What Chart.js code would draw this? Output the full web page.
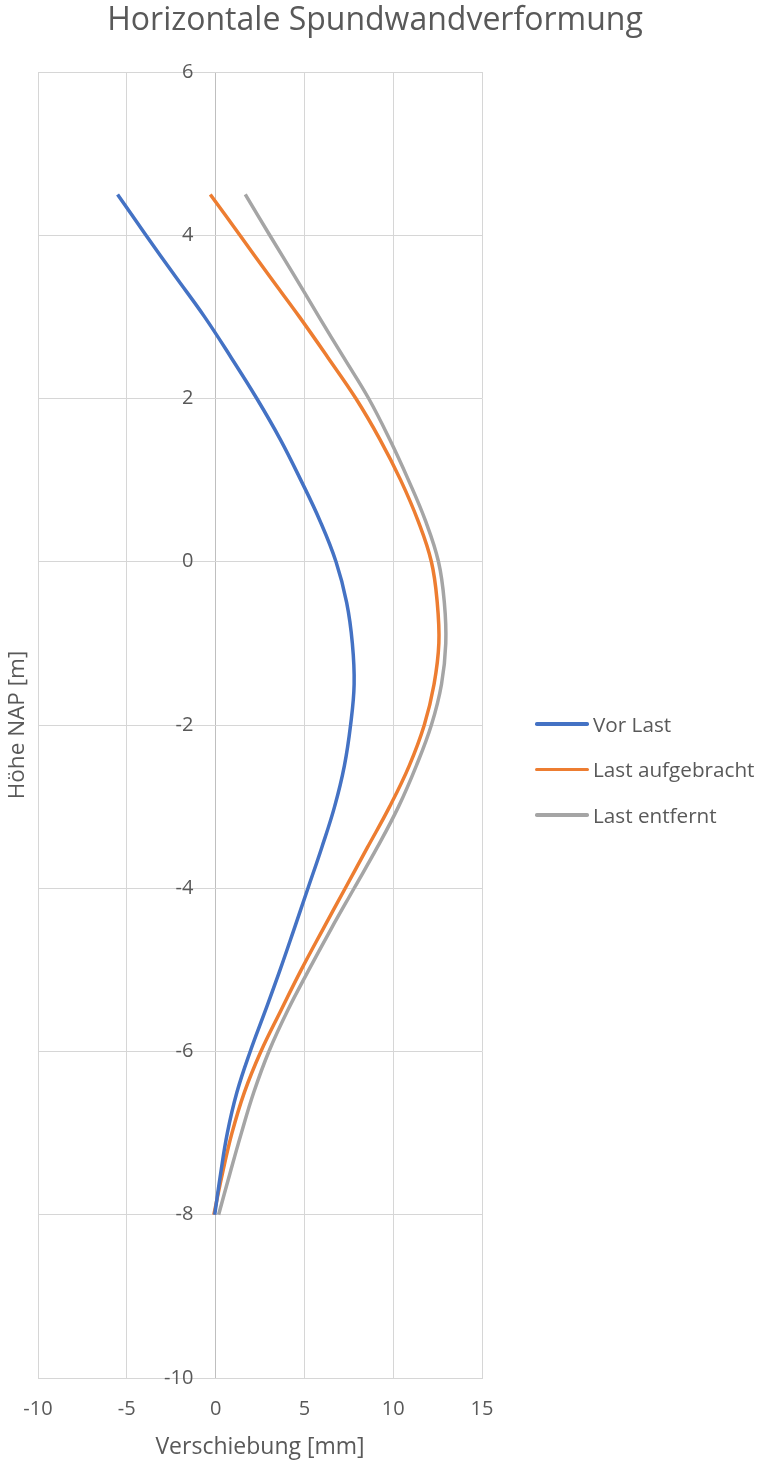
<!DOCTYPE html>
<html lang="de">
<head>
<meta charset="utf-8">
<title>Horizontale Spundwandverformung</title>
<script src="https://cdn.jsdelivr.net/npm/chart.js@4.4.1/dist/chart.umd.min.js"></script>
<style>
  html, body { margin: 0; padding: 0; background: #ffffff; }
  #wrap { position: relative; width: 758px; height: 1465px; }
  #legend { position: absolute; left: 535px; top: 701px; font-family: "Open Sans", sans-serif; font-size: 20.7px; color: #595959; }
  .item { display: flex; align-items: center; height: 45.5px; white-space: nowrap; }
  .swatch { width: 54px; height: 3.5px; border-radius: 1.75px; margin-right: 4px; }
</style>
</head>
<body>
<div id="wrap">
  <canvas id="chart"></canvas>
  <div id="legend"></div>
</div>
<script>
// Höhe NAP [m] der Messpunkte entlang der Spundwand
const heights = [4.5, 4, 3.5, 3, 2.5, 2, 1.5, 1, 0.5, 0, -0.5, -1, -1.5, -2, -2.5, -3, -3.5, -4, -4.5, -5, -5.5, -6, -6.5, -7, -7.5, -8];

// Horizontale Verschiebung [mm] je Lastzustand
const vorLast = [-5.52, -3.92, -2.28, -0.62, 0.88, 2.32, 3.64, 4.8, 5.88, 6.78, 7.38, 7.7, 7.8, 7.6, 7.25, 6.7, 5.98, 5.2, 4.42, 3.63, 2.8, 1.95, 1.2, 0.66, 0.28, -0.05];
const lastAufgebracht = [-0.3, 1.37, 3.03, 4.72, 6.33, 7.9, 9.25, 10.42, 11.4, 12.15, 12.48, 12.57, 12.3, 11.75, 10.9, 9.8, 8.55, 7.3, 6.05, 4.82, 3.67, 2.55, 1.62, 0.92, 0.38, -0.1];
const lastEntfernt = [1.67, 3.05, 4.45, 5.82, 7.22, 8.62, 9.8, 10.86, 11.82, 12.55, 12.88, 12.96, 12.72, 12.15, 11.3, 10.3, 9.1, 7.8, 6.5, 5.25, 4.05, 3.0, 2.15, 1.45, 0.8, 0.17];

const seriesNames = ["Vor Last", "Last aufgebracht", "Last entfernt"];
const seriesColors = ["#4472C4", "#ED7D31", "#A5A5A5"];

// Achsen
const xMin = -10, xMax = 15, xStep = 5;
const yMin = -10, yMax = 6, yStep = 2;
const yLabelAxisAt = -1.25;   // Lage der Höhenbeschriftung links neben der Nulllinie

const textColor = "#595959";
const gridColor = "#d6d6d6";
const zeroLineColor = "#bfbfbf";
const fontFamily = '"Open Sans", sans-serif';

function toPoints(values) {
  return values.map((v, i) => ({ x: v, y: heights[i] }));
}

const seriesValues = [vorLast, lastAufgebracht, lastEntfernt];
const datasets = seriesValues.map((vals, i) => ({
  label: seriesNames[i],
  data: toPoints(vals),
  borderColor: seriesColors[i],
  backgroundColor: seriesColors[i],
  borderWidth: 3.5,
  pointRadius: 0,
  showLine: true,
  tension: 0.4,
  fill: false,
  yAxisID: "y"
}));

const chart = new Chart(document.getElementById("chart"), {
  type: "scatter",
  data: { datasets },
  options: {
    responsive: true,
    maintainAspectRatio: false,
    animation: false,
    devicePixelRatio: 1,
    layout: { padding: { left: 0, right: 8, top: 0, bottom: 0 } },
    plugins: {
      legend: { display: false },
      tooltip: { enabled: false },
      title: {
        display: true,
        text: "Horizontale Spundwandverformung",
        color: textColor,
        font: { family: fontFamily, size: 32, weight: "normal", lineHeight: 1.2 },
        padding: { top: 1.8, bottom: 31.8 }
      }
    },
    scales: {
      x: {
        type: "linear",
        min: xMin, max: xMax,
        ticks: {
          stepSize: xStep,
          color: textColor,
          font: { family: fontFamily, size: 20 },
          padding: 19,
          maxRotation: 0
        },
        grid: {
          color: ctx => (ctx.tick && ctx.tick.value === 0 ? zeroLineColor : gridColor),
          lineWidth: 1,
          drawTicks: false
        },
        border: { display: true, color: gridColor, width: 1 },
        title: {
          display: true,
          text: "Verschiebung [mm]",
          color: textColor,
          font: { family: fontFamily, size: 23, lineHeight: 1.2 },
          padding: { top: 0, bottom: 4.2 }
        },
        afterFit: scale => { scale.height = 87; }
      },
      y: {
        type: "linear",
        position: "left",
        min: yMin, max: yMax,
        ticks: { display: false, stepSize: yStep },
        grid: { color: gridColor, lineWidth: 1, drawTicks: false },
        border: { display: true, color: gridColor, width: 1 },
        title: {
          display: true,
          text: "Höhe NAP [m]",
          color: textColor,
          font: { family: fontFamily, size: 22.5, lineHeight: 1.2 },
          padding: { top: 4.5, bottom: 0 }
        },
        afterFit: scale => { scale.width = 38; }
      },
      yLabels: {
        type: "linear",
        axis: "y",
        position: { x: yLabelAxisAt },
        min: yMin, max: yMax,
        ticks: {
          stepSize: yStep,
          color: textColor,
          font: { family: fontFamily, size: 20 }
        },
        grid: { display: false, drawTicks: false },
        border: { display: false }
      },
      // freier Bereich rechts für die Legende
      legendSpace: {
        type: "linear",
        axis: "y",
        position: "right",
        min: yMin, max: yMax,
        ticks: { display: false },
        grid: { display: false, drawTicks: false },
        border: { display: false },
        afterFit: scale => { scale.width = 268; }
      }
    }
  }
});

// Legende aus den Datensätzen aufbauen
const legendEl = document.getElementById("legend");
chart.data.datasets.forEach(ds => {
  const row = document.createElement("div");
  row.className = "item";
  const sw = document.createElement("span");
  sw.className = "swatch";
  sw.style.background = ds.borderColor;
  const txt = document.createElement("span");
  txt.textContent = ds.label;
  row.appendChild(sw);
  row.appendChild(txt);
  legendEl.appendChild(row);
});
</script>
</body>
</html>
